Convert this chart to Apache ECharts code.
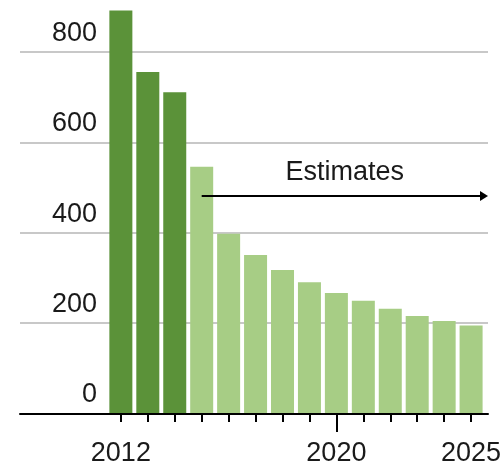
<!DOCTYPE html>
<html><head><meta charset="utf-8">
<script src="https://cdn.jsdelivr.net/npm/echarts@6/dist/echarts.min.js"></script>
<style>html,body{margin:0;padding:0;background:#fff}#c{width:504px;height:467px}</style>
</head><body><div id="c"></div>
<script>
const years = ['2012','2013','2014','2015','2016','2017','2018','2019','2020','2021','2022','2023','2024','2025'];
const values = [892, 756, 711, 546, 397, 350, 317, 290, 266, 249, 231, 215, 204, 194];
const firstEstimateYear = '2015';
const yTicks = [0, 200, 400, 600, 800];
const xLabelYears = ['2012', '2020', '2025'];
const longTickYears = ['2020'];
const annotationText = 'Estimates';
const arrowLevel = 481;

const FONT = '"Liberation Sans", Arial, sans-serif';
const FS = 27;
const DARK = '#5b9239', LIGHT = '#a7cd85', TEXT = '#1a1a1a';
const estIdx = years.indexOf(firstEstimateYear);

const chart = echarts.init(document.getElementById('c'), null, {renderer: 'canvas'});
const option = {
  animation: false,
  backgroundColor: '#fff',
  grid: [
    {left: 20, right: 16, top: 6.9, bottom: 53.7},
    {left: 107.4, right: 16, top: 6.9, bottom: 53.7}
  ],
  xAxis: [
    {gridIndex: 0, type: 'value', min: 0, max: 1,
     axisLine: {show: true, onZero: false, lineStyle: {color: '#000', width: 2}},
     axisTick: {show: false}, axisLabel: {show: false}, splitLine: {show: false}},
    {gridIndex: 1, type: 'category', data: years, position: 'bottom',
     axisLine: {show: false},
     axisTick: {show: true, alignWithLabel: true, interval: 0, length: 9, lineStyle: {color: '#000', width: 2}},
     axisLabel: {interval: (i, v) => xLabelYears.includes(v), margin: 27, fontSize: FS, lineHeight: FS,
                 fontFamily: FONT, color: TEXT}},
    {gridIndex: 1, type: 'category', data: years, position: 'bottom',
     axisLine: {show: false},
     axisTick: {show: true, alignWithLabel: true, interval: (i, v) => longTickYears.includes(v), length: 19,
                lineStyle: {color: '#000', width: 2}},
     axisLabel: {show: false}}
  ],
  yAxis: [
    {gridIndex: 0, type: 'value', min: 0, max: 900, interval: 200,
     axisLine: {show: false}, axisTick: {show: false},
     splitLine: {show: true, showMaxLine: false, lineStyle: {color: '#c8c8c8', width: 2}},
     axisLabel: {inside: true, align: 'right', margin: 77, verticalAlign: 'bottom', padding: [0, 0, 5, 0],
                 lineHeight: FS, fontSize: FS, fontFamily: FONT, color: TEXT, showMaxLabel: false,
                 formatter: v => yTicks.includes(v) ? String(v) : ''}},
    {gridIndex: 1, type: 'value', min: 0, max: 900, show: false}
  ],
  series: [{
    type: 'bar', xAxisIndex: 1, yAxisIndex: 1, data: values, barWidth: 23,
    itemStyle: {color: p => p.dataIndex < estIdx ? DARK : LIGHT}
  }]
};
chart.setOption(option);

const p0 = chart.convertToPixel({xAxisIndex: 1, yAxisIndex: 1}, [firstEstimateYear, arrowLevel]);
const xEnd = chart.convertToPixel({xAxisIndex: 0}, 1);
const y = p0[1];
chart.setOption({
  graphic: [
    {type: 'line', z: 100, shape: {x1: p0[0], y1: y, x2: xEnd - 6, y2: y}, style: {stroke: '#000', lineWidth: 2}},
    {type: 'polygon', z: 100, shape: {points: [[xEnd - 8, y - 5], [xEnd, y], [xEnd - 8, y + 5]]}, style: {fill: '#000'}},
    {type: 'text', z: 100, style: {text: annotationText, x: (p0[0] + xEnd) / 2, y: y - 9.5, align: 'center',
      verticalAlign: 'bottom', fontSize: FS, lineHeight: FS, fontFamily: FONT, fill: TEXT}}
  ]
});
</script>
</body></html>
